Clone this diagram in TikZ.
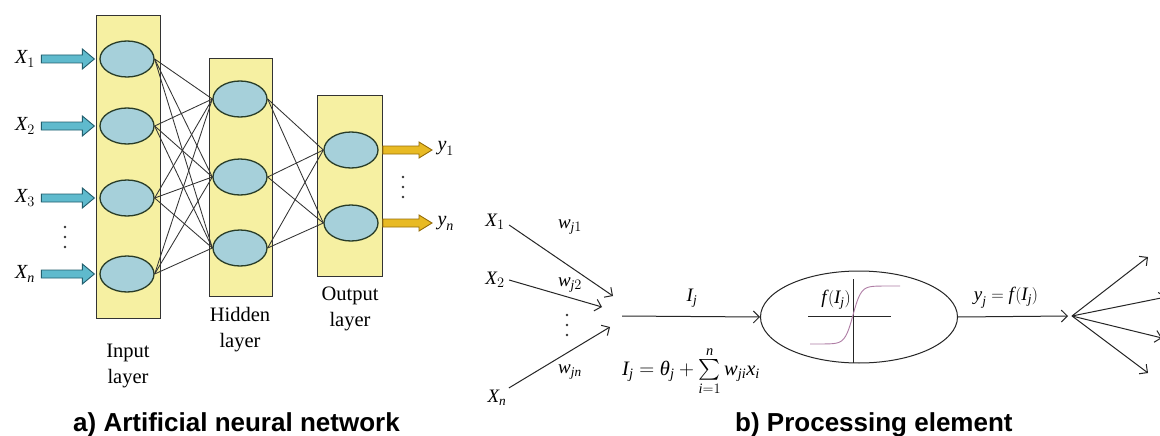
\documentclass[tikz,border=0pt]{standalone}
\usepackage{amsmath}
\usepackage{fontspec}
\setmainfont{Liberation Serif}
\newfontfamily\capfont{Liberation Sans}
\usetikzlibrary{shapes.geometric,arrows.meta,calc}
\definecolor{layeryellow}{RGB}{246,240,162}
\definecolor{cellblue}{RGB}{166,208,218}
\definecolor{celledge}{RGB}{40,60,40}
\definecolor{inarrfill}{RGB}{95,186,205}
\definecolor{inarredge}{RGB}{35,95,110}
\definecolor{outarrfill}{RGB}{232,186,36}
\definecolor{outarredge}{RGB}{150,110,10}
\definecolor{sigcol}{RGB}{175,125,165}
\newcommand\mi[1]{\text{\itshape #1}}
\newcommand\fn{\mi{f}\kern1.5pt}
\newcommand\blockarr[6]{\path[#1] ($(#2)+(0,#4)$) -- ($(#3)+(-#6,#4)$) -- ($(#3)+(-#6,#5)$) -- (#3) -- ($(#3)+(-#6,-#5)$) -- ($(#3)+(-#6,-#4)$) -- ($(#2)+(0,-#4)$) -- cycle;}
\begin{document}
\begin{tikzpicture}[x=1pt,y=-1pt,
  layerbox/.style={draw=black!80, line width=0.8pt, fill=layeryellow},
  cell/.style={ellipse, draw=celledge, line width=1.3pt, fill=cellblue, minimum width=54pt, minimum height=36pt, inner sep=0pt},
  conn/.style={draw=black!80, line width=0.85pt},
  lyrlab/.style={align=center, font=\fontsize{20.5}{26}\selectfont},
  inlab/.style={font=\fontsize{20}{24}\selectfont},
  inarr/.style={fill=inarrfill, draw=inarredge, line width=0.9pt},
  outarr/.style={fill=outarrfill, draw=outarredge, line width=0.9pt},
  mlab/.style={font=\fontsize{19}{22}\selectfont},
  dotmark/.style={fill=black!80},
  parr/.style={draw=black!85, line width=1pt, -{Straight Barb[length=6pt,width=12pt]}},
  captxt/.style={font=\capfont\bfseries\fontsize{26}{30}\selectfont, anchor=base west, inner sep=0pt}
]
\useasboundingbox (0,0) rectangle (1160,436);
\fill[white] (0,0) rectangle (1160,436);

% ---------- a) network ----------
\node[layerbox, minimum width=64pt, minimum height=303pt] (inrect) at (128,166.5) {};
\node[layerbox, minimum width=63pt, minimum height=238pt] (hidrect) at (240.5,177) {};
\node[layerbox, minimum width=65pt, minimum height=181pt] (outrect) at (349.5,185.5) {};

\node[cell] (i1) at (127,59) {};
\node[cell] (i2) at (127,126) {};
\node[cell] (i3) at (127,198) {};
\node[cell] (i4) at (127,274) {};
\node[cell] (h1) at (240,99) {};
\node[cell] (h2) at (240,177) {};
\node[cell] (h3) at (240,248) {};
\node[cell] (o1) at (351,150) {};
\node[cell] (o2) at (351,223) {};

\foreach \a in {i1,i2,i3,i4}
  \foreach \b in {h1,h2,h3}
    \draw[conn] (\a.east) -- (\b.west);
\foreach \a in {h1,h2,h3}
  \foreach \b in {o1,o2}
    \draw[conn] (\a.east) -- (\b.west);

\node[inlab] (x1) at (25,59) {$\mi{X}_1$};
\node[inlab] (x2) at (25,126) {$\mi{X}_2$};
\node[inlab] (x3) at (25,198) {$\mi{X}_3$};
\node[inlab] (x4) at (25,274) {$\mi{X}_{\mi{n}}$};
\foreach \yy in {227,237,247} \fill[dotmark] (65,\yy) circle (1.4);

\blockarr{inarr}{$(x1.east|-i1.west)+(3,0)$}{$(i1.west)+(-5,0)$}{4}{10}{12}
\blockarr{inarr}{$(x2.east|-i2.west)+(3,0)$}{$(i2.west)+(-5,0)$}{4}{10}{12}
\blockarr{inarr}{$(x3.east|-i3.west)+(3,0)$}{$(i3.west)+(-5,0)$}{4}{10}{12}
\blockarr{inarr}{$(x4.east|-i4.west)+(3,0)$}{$(i4.west)+(-5,0)$}{4}{10}{12}

\node[inlab, anchor=west] (y1) at (434,148) {$\mi{y}_1$};
\node[inlab, anchor=west] (yn) at (434,223) {$\mi{y}_{\mi{n}}$};
\foreach \yy in {177,187,197} \fill[dotmark] (403,\yy) circle (1.4);
\blockarr{outarr}{$(outrect.east|-o1.east)+(0.5,0)$}{$(y1.west|-o1.east)+(-2,0)$}{4}{8}{13}
\blockarr{outarr}{$(outrect.east|-o2.east)+(0.5,0)$}{$(yn.west|-o2.east)+(-2,0)$}{4}{8}{13}

\node[lyrlab] (inlbl) at (128,366) {Input\\layer};
\node[lyrlab] (hidlbl) at (240,330) {Hidden\\layer};
\node[lyrlab] (outlbl) at (350,309) {Output\\layer};

% ---------- b) processing element ----------
\node[mlab] (lX1) at (495,222) {$\mi{X}_1$};
\node[mlab] (lX2) at (495,280) {$\mi{X}_2$};
\node[mlab] (lXn) at (497,398) {$\mi{X}_{\mi{n}}$};
\foreach \yy in {315,325,335} \fill[dotmark] (567,\yy) circle (1.4);
\node[mlab] (w1) at (570,227) {$\mi{w}_{\mi{j}1}$};
\node[mlab] (w2) at (570,285) {$\mi{w}_{\mi{j}2}$};
\node[mlab] (wn) at (570,372) {$\mi{w}_{\mi{jn}}$};

\coordinate (t1) at (613,296);
\coordinate (t2) at (602,307);
\coordinate (tn) at (610,327);
\draw[parr] ($(lX1.east)+(1,3)$) -- (t1);
\draw[parr] ($(lX2.east)+(1,0)$) -- (t2);
\draw[parr] ($(lXn.north east)+(-1,1)$) -- (tn);

\node[ellipse, draw=black!85, line width=1pt, minimum width=197pt, minimum height=92pt] (pe) at (859,317) {};
\coordinate (sumpt) at (622,316);
\draw[parr] (sumpt) -- (pe.west);
\node[mlab] (Ij) at (692,298) {$\mi{I}_{\mi{j}}$};
\node[font=\fontsize{20.5}{24}\selectfont] (formula) at (691,371) {$\mi{I}_{\mi{j}}=\mi{θ}_{\mi{j}}+\sum\limits_{\mi{i}=1}^{\mi{n}}\mi{w}_{\mi{ji}}\mi{x}_{\mi{i}}$};

\draw[black!85, line width=1pt] (808,316) -- (891,316);
\draw[black!85, line width=1pt] (853,279) -- (853,363);
\draw[sigcol, line width=0.9pt] plot[domain=-43:47, samples=80, smooth] ({\x+853},{315-29*tanh(\x/8)});
\node[mlab, anchor=east, inner sep=1pt] (fI) at (852,300) {$\fn(\mi{I}_{\mi{j}})$};

\coordinate (fan) at (1068,316);
\draw[parr] (pe.east) -- (fan);
\node[mlab] (yj) at (1006,298) {$\mi{y}_{\mi{j}}=\fn(\mi{I}_{\mi{j}})$};
\coordinate (fo) at (1072,316);
\coordinate (e1) at (1148,257);
\coordinate (e2) at (1166,297);
\coordinate (e3) at (1162,338);
\coordinate (e4) at (1148,373);
\foreach \e in {e1,e2,e3,e4}
  \draw[parr] (fo) -- (\e);

% ---------- captions ----------
\node[captxt] (capa) at (73,431) {a) Artificial neural network};
\node[captxt] (capb) at (735,431) {b) Processing element};
\end{tikzpicture}
\end{document}
